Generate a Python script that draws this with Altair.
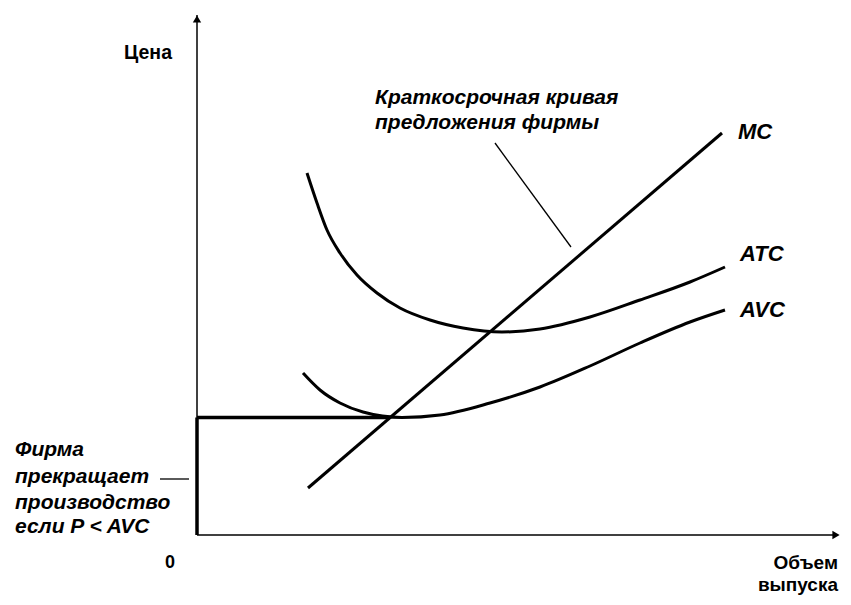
import altair as alt
import pandas as pd

# Coordinates in chart units (quantity, price); origin at the axes corner
mc_q = [11.1, 52.5]
mc_p = [4.7, 40.2]

atc_q = [11.0, 12.0, 13.0, 14.3, 16.0, 18.0, 20.3, 23.3, 26.6, 30.5, 34.3, 39.3, 44.3, 49.3, 52.8]
atc_p = [36.2, 33.2, 30.5, 28.2, 26.0, 24.2, 22.7, 21.5, 20.7, 20.3, 20.6, 21.8, 23.5, 25.3, 26.8]

avc_q = [10.6, 12.3, 14.3, 16.6, 20.5, 24.3, 29.3, 34.3, 39.3, 44.3, 49.3, 52.8]
avc_p = [16.2, 14.5, 13.2, 12.3, 11.75, 12.0, 13.2, 14.8, 16.9, 19.2, 21.3, 22.5]

shutdown_price = 11.75
shutdown_q = 19.3

curve_labels = ["MC", "ATC", "AVC"]
curve_label_q = [54.1, 54.3, 54.3]
curve_label_p = [40.35, 28.15, 22.5]

supply_text = ["Краткосрочная кривая", "предложения фирмы"]
left_text = ["Фирма", "прекращает", "производство", "если P < AVC"]

X = alt.Scale(domain=[-18.9, 64.6], nice=False, zero=False)
Y = alt.Scale(domain=[-5.4, 52.7], nice=False, zero=False)

def xe(f="q"):
    return alt.X(f + ":Q", scale=X, axis=None)

def ye(f="p"):
    return alt.Y(f + ":Q", scale=Y, axis=None)

df_mc = pd.DataFrame({"q": mc_q, "p": mc_p})
df_atc = pd.DataFrame({"q": atc_q, "p": atc_p})
df_avc = pd.DataFrame({"q": avc_q, "p": avc_p})

mc = alt.Chart(df_mc).mark_line(color="black", strokeWidth=3).encode(x=xe(), y=ye())
atc = alt.Chart(df_atc).mark_line(color="black", strokeWidth=3, interpolate="monotone").encode(x=xe(), y=ye())
avc = alt.Chart(df_avc).mark_line(color="black", strokeWidth=3, interpolate="monotone").encode(x=xe(), y=ye())

# axes
axes_df = pd.DataFrame({"q": [0, 0], "p": [0, 0], "q2": [0, 64.0], "p2": [52.0, 0]})
axes = alt.Chart(axes_df).mark_rule(color="black", strokeWidth=1.5).encode(
    x=xe(), y=ye(), x2="q2:Q", y2="p2:Q")

arrows_df = pd.DataFrame({"q": [0, 63.9], "p": [51.6, 0], "s": ["triangle-up", "triangle-right"]})
arrows = alt.Chart(arrows_df).mark_point(filled=True, color="black", size=70, opacity=1).encode(
    x=xe(), y=ye(), shape=alt.Shape("s:N", scale=None))

# shutdown segments
shut_df = pd.DataFrame({"q": [0, 0], "p": [shutdown_price, 0], "q2": [shutdown_q, 0], "p2": [shutdown_price, shutdown_price]})
shut = alt.Chart(shut_df).mark_rule(color="black", strokeWidth=3.5).encode(
    x=xe(), y=ye(), x2="q2:Q", y2="p2:Q")

# pointers
ptr_df = pd.DataFrame({"q": [29.8, -3.7], "p": [39.2, 5.6], "q2": [37.4, -0.8], "p2": [28.8, 5.6]})
ptr = alt.Chart(ptr_df).mark_rule(color="black", strokeWidth=1.3).encode(
    x=xe(), y=ye(), x2="q2:Q", y2="p2:Q")

font = "Liberation Sans"

lab_df = pd.DataFrame({"t": curve_labels, "q": curve_label_q, "p": curve_label_p})
labs = alt.Chart(lab_df).mark_text(font=font, fontSize=22, fontStyle="italic", fontWeight="bold",
                                   align="left", baseline="middle").encode(x=xe(), y=ye(), text="t:N")

sup_df = pd.DataFrame({"t": supply_text, "q": [17.8, 17.8], "p": [43.7, 41.2]})
sup = alt.Chart(sup_df).mark_text(font=font, fontSize=21, fontStyle="italic", fontWeight="bold",
                                  align="left", baseline="middle").encode(x=xe(), y=ye(), text="t:N")

left_df = pd.DataFrame({"t": left_text, "q": [-18.2] * 4, "p": [8.5, 5.8, 3.2, 0.8]})
left = alt.Chart(left_df).mark_text(font=font, fontSize=21, fontStyle="italic", fontWeight="bold",
                                    align="left", baseline="middle").encode(x=xe(), y=ye(), text="t:N")

price_lbl = alt.Chart(pd.DataFrame({"t": ["Цена"], "q": [-2.5], "p": [48.2]})).mark_text(
    font=font, fontSize=19.5, fontWeight="bold", align="right", baseline="middle").encode(
    x=xe(), y=ye(), text="t:N")

zero_lbl = alt.Chart(pd.DataFrame({"t": ["0"], "q": [-2.7], "p": [-2.8]})).mark_text(
    font=font, fontSize=18, fontWeight="bold", align="center", baseline="middle").encode(
    x=xe(), y=ye(), text="t:N")

q_lbl = alt.Chart(pd.DataFrame({"t": ["Объем", "выпуска"], "q": [64.1, 64.1], "p": [-2.8, -5.0]})).mark_text(
    font=font, fontSize=19, fontWeight="bold", align="right", baseline="middle").encode(
    x=xe(), y=ye(), text="t:N")

chart = alt.layer(axes, arrows, shut, ptr, mc, atc, avc, labs, sup, left, price_lbl, zero_lbl, q_lbl).properties(
    width=835, height=581,
    padding={"left": 0, "top": 0, "right": 0, "bottom": 8},
    autosize=alt.AutoSizeParams(type="none"),
    background="white"
).configure_view(stroke=None)

chart.save("out.html", embed_options={"renderer": "svg", "actions": False})
